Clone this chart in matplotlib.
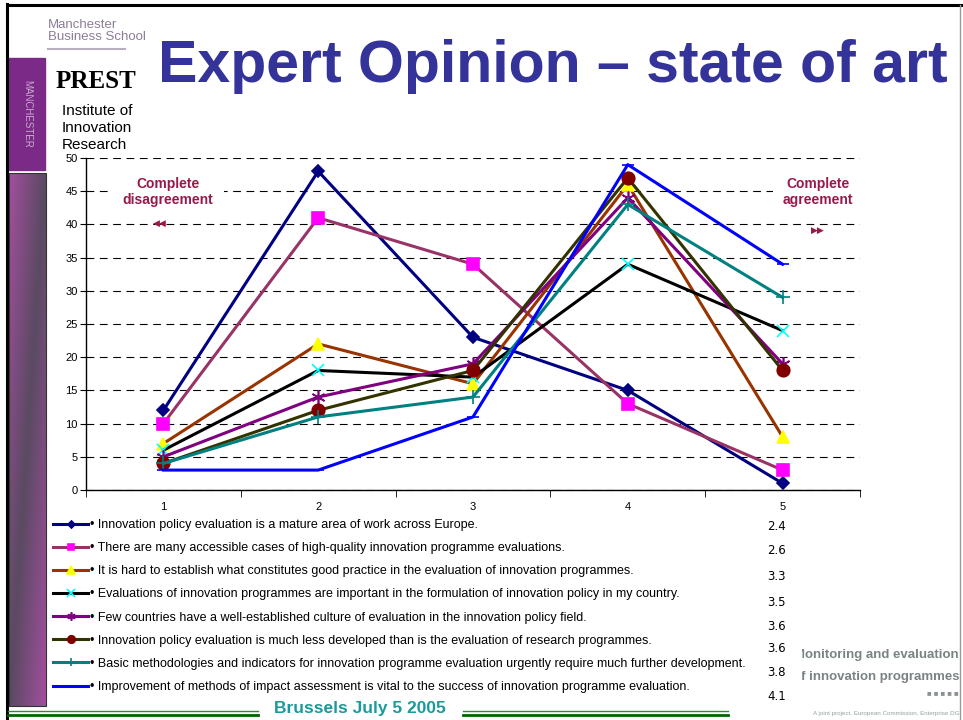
import numpy as np
import matplotlib
matplotlib.use('Agg')
import matplotlib.pyplot as plt
from matplotlib.colors import LinearSegmentedColormap
from matplotlib.patches import Rectangle

plt.rcParams['font.family'] = ['Liberation Sans', 'DejaVu Sans']

categories = [1, 2, 3, 4, 5]
statements = [
    'Innovation policy evaluation is a mature area of work across Europe.',
    'There are many accessible cases of high-quality innovation programme evaluations.',
    'It is hard to establish what constitutes good practice in the evaluation of innovation programmes.',
    'Evaluations of innovation programmes are important in the formulation of innovation policy in my country.',
    'Few countries have a well-established culture of evaluation in the innovation policy field.',
    'Innovation policy evaluation is much less developed than is the evaluation of research programmes.',
    'Basic methodologies and indicators for innovation programme evaluation urgently require much further development.',
    'Improvement of methods of impact assessment is vital to the success of innovation programme evaluation.',
]
mature_area = [12, 48, 23, 15, 1]
accessible_cases = [10, 41, 34, 13, 3]
good_practice = [7, 22, 16, 46, 8]
important_policy = [6, 18, 17, 34, 24]
few_countries = [5, 14, 19, 44, 19]
less_developed = [4, 12, 18, 47, 18]
basic_methods = [4, 11, 14, 43, 29]
impact_assessment = [3, 3, 11, 49, 34]
mean_scores = ['2.4', '2.6', '3.3', '3.5', '3.6', '3.6', '3.8', '4.1']

series = [mature_area, accessible_cases, good_practice, important_policy,
          few_countries, less_developed, basic_methods, impact_assessment]
# (line colour, marker, marker face, marker edge, marker size)
styles = [
    ('#000080', 'D', '#000080', '#000080', 6),
    ('#993366', 's', '#ff00ff', '#ff00ff', 8),
    ('#993300', '^', '#ffff00', '#ffff00', 9),
    ('#000000', 'x', '#00ffff', '#00ffff', 9),
    ('#800080', (6, 2, 0), '#800080', '#800080', 10),
    ('#333300', 'o', '#800000', '#800000', 9),
    ('#008080', '+', '#008080', '#008080', 10),
    ('#0000ff', '_', '#0000ff', '#0000ff', 9),
]

W, H = 963, 720
fig = plt.figure(figsize=(9.63, 7.2), dpi=100)

# slide decoration in pixel coordinates
bg = fig.add_axes([0, 0, 1, 1], zorder=0)
bg.set_xlim(0, W)
bg.set_ylim(H, 0)
bg.axis('off')

bg.plot([7, 7], [4, 720], color='black', lw=2.2)
bg.plot([7, 963], [5, 5], color='black', lw=2.2)
bg.plot([960, 960], [5, 720], color='#999999', lw=1)

bg.add_patch(Rectangle((8, 58), 37, 112, color='#7b2a88'))
bg.text(27, 114, 'MANCHESTER', rotation=270, color='white', alpha=0.6,
        fontsize=7, ha='center', va='center')
bx, by = np.meshgrid(np.linspace(0, 1, 40), np.linspace(0, 1, 300))
grad = np.abs(bx + by - 1)
cmap = LinearSegmentedColormap.from_list('bar', ['#5a4a62', '#a24f9e'])
bg.imshow(grad, cmap=cmap, extent=(9, 46, 706, 173), aspect='auto', zorder=1)
bg.add_patch(Rectangle((9, 173), 37, 533, fill=False, ec='#333333', lw=0.8, zorder=2))

bg.text(48, 31, 'Manchester\nBusiness School', color='#8c7d99', fontsize=9.5,
        va='center', ha='left', linespacing=0.95)
bg.plot([48, 125], [49, 49], color='#b8b0c0', lw=1.5)
bg.text(56, 81, 'PREST', family='Liberation Serif', fontweight='bold',
        fontsize=18, va='center', ha='left')
bg.text(62, 128, 'Institute of\nInnovation\nResearch', fontsize=11,
        va='center', ha='left', linespacing=1.3)
bg.text(553, 67, 'Expert Opinion \u2013 state of art', color='#333399',
        fontsize=42.5, fontweight='bold', ha='center', va='center')

bg.plot([8, 258], [711, 711], color='#2e8b2e', lw=1)
bg.plot([8, 258], [714.5, 714.5], color='#006400', lw=2)
bg.plot([463, 728], [711, 711], color='#2e8b2e', lw=1)
bg.plot([463, 728], [714.5, 714.5], color='#006400', lw=2)
bg.text(360, 709, 'Brussels July 5 2005', color='#1a9a9a', fontsize=12.5,
        fontweight='bold', ha='center', va='center')

clip = fig.add_axes([802 / W, 0, (959 - 802) / W, 75 / H], zorder=0)
clip.set_xlim(802, 959)
clip.set_ylim(720, 645)
clip.axis('off')
clip.text(959, 655, 'Monitoring and evaluation', ha='right', va='center',
          color='#4d5a5a', fontsize=9.5, fontweight='bold', alpha=0.75, clip_on=True)
clip.text(959, 677, 'of innovation programmes', ha='right', va='center',
          color='#4d5a5a', fontsize=9.5, fontweight='bold', alpha=0.75, clip_on=True)
clip.text(959, 695, '\u25a0 \u25a0 \u25a0 \u25a0 \u25a0', ha='right', va='center',
          color='#3a4a4a', fontsize=5.5, alpha=0.6, clip_on=True)
clip.text(959, 714, 'A joint project, European Commission, Enterprise DG', ha='right',
          va='center', color='#6a7a7a', fontsize=4.5, alpha=0.7, clip_on=True)

# chart
ax = fig.add_axes([86 / W, 1 - 490 / H, (860 - 86) / W, (490 - 158) / H], zorder=2)
ax.patch.set_alpha(0)
lines = []
for vals, (lc, mk, mf, me, ms), lab in zip(series, styles, statements):
    ln, = ax.plot(categories, vals, color=lc, lw=2.2, marker=mk, markersize=ms,
                  markerfacecolor=mf, markeredgecolor=me, markeredgewidth=1.2,
                  label='\u2022 ' + lab, zorder=3)
    lines.append(ln)

ax.set_xlim(0.5, 5.5)
ax.set_ylim(0, 50)
ax.set_yticks(range(0, 51, 5))
ax.set_xticks(categories)
ax.set_xticks(np.arange(0.5, 5.6, 1), minor=True)
ax.tick_params(axis='x', which='major', length=0, labelsize=8, pad=9)
ax.tick_params(axis='x', which='minor', length=5, direction='out')
ax.tick_params(axis='y', length=4, direction='out', labelsize=8, pad=2)
ax.yaxis.grid(True, color='black', lw=0.8, linestyle=(0, (7, 5)))
ax.set_axisbelow(True)
for side in ['top', 'right']:
    ax.spines[side].set_visible(False)
ax.spines['bottom'].set_linewidth(1)
ax.spines['left'].set_linewidth(1)

ax.text(168, 192, 'Complete\ndisagreement', transform=bg.transData, color='#99184a',
        fontsize=10, fontweight='bold', ha='center', va='center', linespacing=1.25,
        zorder=5, bbox=dict(boxstyle='square,pad=0.75', fc='white', ec='none'))
ax.text(160, 223, '\u25c0\u25c0', transform=bg.transData, color='#99184a',
        fontsize=6.5, ha='center', va='center', family='DejaVu Sans', zorder=5)
ax.text(818, 192, 'Complete\nagreement', transform=bg.transData, color='#99184a',
        fontsize=10, fontweight='bold', ha='center', va='center', linespacing=1.25,
        zorder=5, bbox=dict(boxstyle='square,pad=0.7', fc='white', ec='none'))
ax.text(818, 230, '\u25b6\u25b6', transform=bg.transData, color='#99184a',
        fontsize=6.5, ha='center', va='center', family='DejaVu Sans', zorder=5)

fig.legend(handles=lines, loc='upper left', bbox_to_anchor=(53 / W, 1 - 519 / H),
           frameon=False, fontsize=9, handlelength=2.8, handletextpad=0.15,
           labelspacing=0.89, borderaxespad=0, borderpad=0, markerscale=0.6)

mean_y = [527, 551, 577, 602, 626, 648, 673, 697]
for yy, m in zip(mean_y, mean_scores):
    bg.text(767, yy, m, fontsize=8.5, family='DejaVu Sans', ha='left', va='center')

fig.savefig('out.png', dpi=100)
